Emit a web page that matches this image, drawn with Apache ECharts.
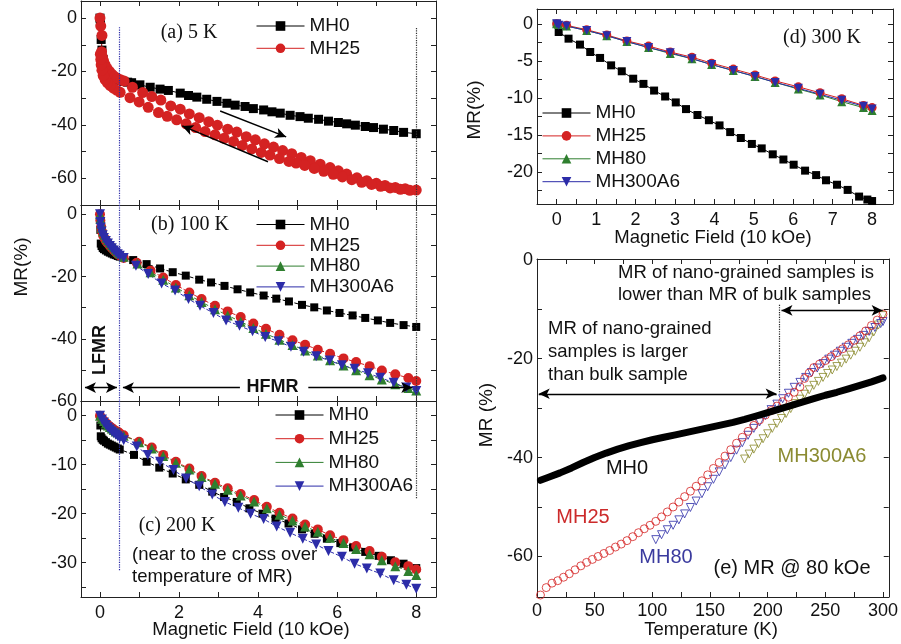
<!DOCTYPE html>
<html><head><meta charset="utf-8">
<script src="https://cdn.jsdelivr.net/npm/echarts@6/dist/echarts.min.js"></script>
<style>html,body{margin:0;padding:0;background:#fff}#c{width:901px;height:644px}</style>
</head><body><div id="c"></div>
<script>
// ---------- tick / label values ----------
const xMF_ticks = [0,1,2,3,4,5,6,7,8];
const xMF_labels = [0,2,4,6,8];
const ya_ticks = [-70,-60,-50,-40,-30,-20,-10,0];
const ya_labels = [-60,-40,-20,0];
const yb_ticks = [-60,-50,-40,-30,-20,-10,0];
const yb_labels = [-60,-40,-20,0];
const yc_ticks = [-35,-30,-25,-20,-15,-10,-5,0];
const yc_labels = [-30,-20,-10,0];
const xd_ticks = [0,0.5,1,1.5,2,2.5,3,3.5,4,4.5,5,5.5,6,6.5,7,7.5,8];
const xd_labels = [0,1,2,3,4,5,6,7,8];
const yd_ticks = [-22.5,-20,-17.5,-15,-12.5,-10,-7.5,-5,-2.5,0];
const yd_labels = [-20,-15,-10,-5,0];
const xe_ticks = [0,25,50,75,100,125,150,175,200,225,250,275,300];
const xe_labels = [0,50,100,150,200,250,300];
const ye_ticks = [-60,-50,-40,-30,-20,-10,0];
const ye_labels = [-60,-40,-20,0];

// ---------- (a) 5 K ----------
const a_MH0 = [[0,0],[0.01,-1.2],[0.03,-8],[0.05,-12],[0.08,-15.5],[0.12,-18],[0.16,-19.5],[0.2,-20.5],[0.25,-21.2],[0.3,-21.8],[0.35,-22.3],[0.4,-22.7],[0.45,-23.0],[0.5,-23.3],[0.6,-23.7],[0.7,-24.0],[0.80,-24.2],[1.01,-25.0],[1.27,-25.9],[1.52,-26.6],[1.73,-27.1],[2.03,-28.1],[2.24,-29.0],[2.45,-29.6],[2.70,-30.4],[2.96,-31.2],[3.21,-31.9],[3.42,-32.6],[3.67,-33.1],[3.88,-33.9],[4.14,-34.4],[4.35,-35.1],[4.56,-35.6],[4.81,-36.4],[5.06,-36.9],[5.27,-37.5],[5.53,-37.9],[5.78,-38.6],[6.03,-39.1],[6.24,-39.6],[6.46,-40.1],[6.71,-40.6],[6.92,-41.0],[7.17,-41.6],[7.43,-42.1],[7.68,-42.8],[8.00,-43.3]];
const a_MH25 = [[0,0],[0.02,-3],[0.05,-6.5],[0.04,-12.6],[0.06,-14.5],[0.09,-16],[0.13,-17.5],[0.18,-18.8],[0.24,-20],[0.3,-21],[0.37,-21.9],[0.44,-22.6],[0.52,-23.1],[0.61,-23.6],[0.82,-25.9],[1.08,-27.9],[1.31,-29.4],[1.54,-30.7],[1.79,-32.9],[2.03,-34.1],[2.26,-35.9],[2.51,-37.3],[2.75,-38.8],[2.97,-40.1],[3.23,-41.6],[3.46,-42.7],[3.70,-44.4],[3.93,-45.6],[4.16,-47.1],[4.39,-48.3],[4.62,-49.6],[4.85,-50.8],[5.09,-52.2],[5.32,-53.4],[5.57,-54.7],[5.82,-56.0],[6.03,-57.2],[6.24,-58.4],[6.50,-59.8],[6.75,-60.9],[6.99,-61.9],[7.21,-62.7],[7.47,-63.4],[7.72,-63.9],[8.00,-64.4],[7.84,-64.5],[7.60,-64.1],[7.34,-63.6],[7.10,-63.0],[6.87,-62.3],[6.62,-61.5],[6.37,-60.5],[6.13,-59.5],[5.90,-58.5],[5.66,-57.4],[5.42,-56.3],[5.18,-55.2],[4.96,-54.3],[4.78,-53.7],[4.54,-52.6],[4.30,-51.3],[4.08,-50.3],[3.84,-49.0],[3.60,-47.7],[3.38,-46.2],[3.14,-45.0],[2.91,-43.7],[2.66,-42.5],[2.42,-41.0],[2.18,-39.6],[1.94,-38.1],[1.70,-36.8],[1.48,-35.4],[1.22,-33.4],[0.99,-31.4],[0.76,-29.8],[0.51,-27.8],[0.42,-27.0],[0.34,-26.2],[0.26,-25.3],[0.19,-24.3],[0.13,-23.0],[0.08,-21.5],[0.05,-19.5],[0.03,-17.5],[0.02,-15.5],[0.01,-13.5]];

// ---------- (b) 100 K ----------
const b_MH0 = [[0,0],[0.01,-5],[0.02,-9.4],[0.04,-10.2],[0.07,-10.8],[0.1,-11.2],[0.15,-11.6],[0.2,-12.0],[0.25,-12.3],[0.3,-12.6],[0.35,-12.9],[0.4,-13.1],[0.45,-13.4],[0.5,-13.6],[0.84,-14.7],[1.18,-16.0],[1.52,-17.4],[1.84,-18.6],[2.17,-19.7],[2.51,-21.0],[2.81,-21.9],[3.15,-23.0],[3.48,-24.1],[3.80,-25.1],[4.14,-26.1],[4.46,-27.1],[4.78,-28.0],[5.11,-29.1],[5.42,-29.9],[5.74,-30.9],[6.06,-31.7],[6.39,-32.5],[6.71,-33.3],[7.03,-34.1],[7.34,-34.9],[7.68,-35.6],[8.00,-36.2]];
const b_MH25 = [[0,0],[0.01,-2],[0.03,-4],[0.05,-5.5],[0.08,-6.8],[0.12,-7.8],[0.16,-8.7],[0.2,-9.4],[0.25,-10.1],[0.3,-10.8],[0.35,-11.5],[0.4,-12.1],[0.45,-12.7],[0.5,-13.2],[0.6,-14.0],[0.93,-15.6],[1.28,-18.1],[1.60,-20.3],[1.92,-22.7],[2.26,-25.1],[2.57,-27.2],[2.91,-29.4],[3.23,-31.2],[3.56,-33.0],[3.88,-35.1],[4.20,-36.8],[4.54,-38.7],[4.87,-40.5],[5.19,-41.9],[5.51,-43.5],[5.82,-44.8],[6.16,-46.3],[6.48,-47.5],[6.82,-48.8],[7.13,-50.2],[7.47,-51.4],[7.80,-52.6],[8.00,-53.6]];
const b_MH80 = [[0,0],[0.01,-1.5],[0.03,-3],[0.05,-4.3],[0.08,-5.5],[0.12,-6.6],[0.16,-7.5],[0.2,-8.3],[0.25,-9.1],[0.3,-9.9],[0.35,-10.6],[0.4,-11.3],[0.45,-12.0],[0.5,-12.6],[0.6,-13.6],[0.95,-15.8],[1.28,-18.6],[1.60,-21.0],[1.92,-23.5],[2.26,-26.0],[2.57,-28.2],[2.91,-30.5],[3.23,-32.5],[3.56,-34.5],[3.88,-36.5],[4.20,-38.4],[4.54,-40.3],[4.87,-42.0],[5.19,-43.8],[5.51,-45.4],[5.82,-46.9],[6.16,-48.6],[6.48,-50.1],[6.82,-51.7],[7.13,-53.1],[7.47,-54.6],[7.80,-55.8],[8.00,-56.6]];
const b_MH300A6 = [[0,0],[0.01,-2.5],[0.02,-4.2],[0.04,-5.5],[0.07,-6.7],[0.1,-7.6],[0.15,-8.6],[0.2,-9.4],[0.25,-10.2],[0.3,-10.9],[0.35,-11.6],[0.4,-12.2],[0.45,-12.8],[0.5,-13.3],[0.6,-14.0],[0.91,-16.5],[1.22,-19.2],[1.56,-22.2],[1.90,-24.5],[2.24,-27.2],[2.53,-29.4],[2.87,-31.7],[3.19,-34.1],[3.53,-35.8],[3.86,-37.6],[4.18,-39.4],[4.51,-40.8],[4.83,-42.6],[5.15,-44.2],[5.47,-45.6],[5.81,-47.0],[6.12,-48.5],[6.44,-49.6],[6.78,-51.1],[7.09,-52.5],[7.43,-54.1],[7.75,-55.7],[8.00,-56.8]];

// ---------- (c) 200 K ----------
const c_MH0 = [[0,0],[0.01,-2],[0.02,-4.2],[0.04,-4.6],[0.07,-4.9],[0.1,-5.1],[0.15,-5.4],[0.2,-5.7],[0.25,-5.9],[0.3,-6.1],[0.35,-6.3],[0.4,-6.5],[0.45,-6.7],[0.5,-6.9],[0.86,-8.0],[1.18,-9.4],[1.50,-10.6],[1.84,-11.8],[2.17,-13.0],[2.51,-14.1],[2.84,-15.5],[3.14,-16.6],[3.46,-17.6],[3.78,-18.9],[4.11,-20.0],[4.44,-21.0],[4.77,-22.0],[5.11,-23.2],[5.43,-24.1],[5.74,-25.1],[6.08,-26.0],[6.40,-26.9],[6.71,-27.8],[7.05,-28.6],[7.36,-29.5],[7.68,-30.2],[8.00,-31.1]];
const c_MH25 = [[0,0],[0.05,-0.6],[0.1,-1.1],[0.15,-1.5],[0.2,-1.9],[0.25,-2.2],[0.3,-2.5],[0.35,-2.8],[0.4,-3.1],[0.45,-3.3],[0.5,-3.6],[0.6,-4.0],[0.99,-5.3],[1.31,-6.5],[1.60,-8.0],[1.92,-9.4],[2.26,-10.8],[2.57,-12.3],[2.91,-13.7],[3.23,-14.8],[3.56,-16.0],[3.90,-17.2],[4.22,-18.6],[4.54,-19.8],[4.87,-21.0],[5.19,-22.2],[5.51,-23.2],[5.82,-24.4],[6.16,-25.4],[6.48,-26.6],[6.82,-27.6],[7.13,-28.8],[7.47,-29.9],[7.80,-30.7],[8.00,-31.4]];
const c_MH80 = [[0,0],[0.05,-0.6],[0.1,-1.1],[0.15,-1.6],[0.2,-2.0],[0.25,-2.3],[0.3,-2.6],[0.35,-2.9],[0.4,-3.2],[0.45,-3.4],[0.5,-3.7],[0.6,-4.1],[0.99,-5.4],[1.31,-6.7],[1.60,-8.2],[1.92,-9.6],[2.26,-11.0],[2.57,-12.5],[2.91,-13.9],[3.23,-15.1],[3.56,-16.3],[3.90,-17.5],[4.22,-18.9],[4.54,-20.2],[4.87,-21.4],[5.19,-22.6],[5.51,-23.7],[5.82,-24.9],[6.16,-26.0],[6.48,-27.2],[6.82,-28.3],[7.13,-29.5],[7.47,-30.7],[7.80,-31.7],[8.00,-32.5]];
const c_MH300A6 = [[0,0],[0.05,-0.8],[0.1,-1.4],[0.15,-1.9],[0.2,-2.4],[0.25,-2.8],[0.3,-3.2],[0.35,-3.6],[0.4,-3.9],[0.45,-4.2],[0.5,-4.5],[0.6,-5.0],[0.93,-6.3],[1.21,-8.0],[1.52,-9.4],[1.86,-11.1],[2.18,-12.8],[2.51,-14.4],[2.84,-16.1],[3.16,-17.6],[3.50,-18.8],[3.81,-20.0],[4.14,-21.1],[4.47,-22.6],[4.81,-23.9],[5.13,-25.1],[5.47,-26.3],[5.78,-27.6],[6.12,-28.8],[6.44,-30.2],[6.75,-31.2],[7.09,-32.2],[7.43,-33.6],[7.75,-34.5],[8.00,-35.3]];

// ---------- (d) 300 K ----------
const d_MH0 = [[0,0],[0.05,-1.1],[0.30,-2.0],[0.59,-2.8],[0.85,-3.8],[1.10,-4.6],[1.38,-5.6],[1.65,-6.4],[1.94,-7.4],[2.20,-8.1],[2.47,-9.0],[2.75,-9.8],[3.02,-10.6],[3.28,-11.5],[3.57,-12.3],[3.86,-13.0],[4.13,-13.7],[4.40,-14.6],[4.67,-15.4],[4.95,-16.2],[5.20,-16.8],[5.48,-17.6],[5.75,-18.3],[6.01,-19.0],[6.30,-19.8],[6.58,-20.4],[6.83,-21.1],[7.11,-21.7],[7.38,-22.4],[7.67,-23.3],[7.88,-23.7],[8.00,-23.9]];
const d_MH25 = [[0,0],[0.05,-0.1],[0.25,-0.2],[0.76,-0.8],[1.27,-1.5],[1.78,-2.3],[2.33,-3.0],[2.88,-3.8],[3.43,-4.5],[3.93,-5.3],[4.48,-6.1],[5.03,-6.9],[5.54,-7.7],[6.13,-8.5],[6.68,-9.3],[7.23,-10.1],[7.78,-11.0],[8.00,-11.3]];
const d_MH80 = [[0,0],[0.05,-0.1],[0.25,-0.3],[0.76,-0.9],[1.27,-1.6],[1.78,-2.4],[2.33,-3.2],[2.88,-4.0],[3.43,-4.7],[3.93,-5.5],[4.48,-6.3],[5.03,-7.1],[5.54,-7.9],[6.13,-8.8],[6.68,-9.6],[7.23,-10.5],[7.78,-11.3],[8.00,-11.7]];
const d_MH300A6 = [[0,0],[0.05,-0.2],[0.25,-0.3],[0.76,-0.9],[1.27,-1.6],[1.78,-2.4],[2.33,-3.2],[2.88,-3.9],[3.43,-4.7],[3.93,-5.5],[4.48,-6.3],[5.03,-7.1],[5.54,-7.9],[6.13,-8.7],[6.68,-9.5],[7.23,-10.3],[7.78,-11.1],[8.00,-11.5]];

// ---------- (e) MR @ 80 kOe vs temperature ----------
const e_MH0 = [[3,-44.6],[10,-44.0],[20,-43.1],[30,-42.1],[40,-41.0],[50,-40.0],[60,-39.1],[70,-38.3],[80,-37.6],[90,-37.0],[100,-36.4],[110,-35.9],[120,-35.4],[130,-34.9],[140,-34.4],[150,-33.9],[160,-33.4],[170,-32.9],[180,-32.3],[190,-31.6],[200,-30.9],[210,-30.2],[220,-29.5],[230,-28.8],[240,-28.1],[250,-27.4],[260,-26.8],[270,-26.1],[280,-25.4],[290,-24.7],[300,-23.9]];
const e_MH25 = [[3,-67.8],[8,-66.3],[13,-65.4],[18,-64.9],[23,-64.2],[28,-63.5],[33,-62.7],[38,-61.9],[43,-61.2],[48,-60.6],[53,-60.0],[58,-59.4],[63,-58.8],[68,-58.1],[73,-57.5],[78,-56.8],[83,-56.0],[88,-55.2],[93,-54.4],[98,-53.7],[103,-52.9],[108,-52.0],[113,-51.0],[118,-50.0],[123,-49.0],[128,-47.9],[133,-46.8],[138,-45.8],[143,-44.7],[148,-43.5],[153,-42.2],[158,-41.0],[163,-39.7],[168,-38.4],[173,-37.1],[178,-35.9],[183,-34.7],[188,-33.5],[193,-32.4],[198,-31.4],[203,-30.5],[208,-29.6],[213,-28.7],[218,-27.8],[223,-26.8],[228,-25.7],[232,-24.0],[236,-22.9],[240,-21.8],[245,-21.1],[250,-20.4],[255,-19.6],[260,-18.8],[265,-18.0],[270,-17.2],[275,-16.3],[280,-15.4],[285,-14.4],[290,-13.3],[295,-12.2],[300,-11.0]];
const e_MH80 = [[103,-56.6],[108,-55.6],[113,-54.6],[118,-53.7],[123,-52.6],[128,-51.4],[133,-50.1],[138,-48.8],[143,-47.3],[148,-45.9],[153,-44.4],[158,-42.9],[163,-41.5],[168,-40.0],[173,-38.5],[178,-37.0],[183,-35.5],[188,-34.1],[193,-32.8],[198,-31.5],[203,-30.3],[208,-29.2],[213,-28.1],[218,-27.0],[223,-25.8],[228,-24.8],[233,-23.8],[238,-22.8],[243,-21.9],[248,-21.0],[253,-20.1],[258,-19.3],[263,-18.5],[268,-17.7],[273,-16.9],[278,-16.1],[283,-15.3],[288,-14.5],[293,-13.7],[298,-12.9],[300,-12.5]];
const e_MH300A6 = [[180,-40.3],[184,-39.3],[188,-38.3],[192,-37.2],[196,-36.2],[200,-35.2],[204,-34.1],[208,-33.1],[212,-32.1],[216,-31.1],[220,-30.1],[224,-29.1],[228,-28.2],[232,-27.2],[236,-26.3],[240,-25.4],[244,-24.6],[248,-23.8],[252,-23.0],[256,-22.3],[260,-21.6],[264,-20.9],[268,-20.1],[272,-19.3],[276,-18.5],[280,-17.7],[284,-16.8],[288,-15.8],[292,-14.6],[296,-13.2],[300,-11.3]];

// ---------- styling ----------
const SANS = '"Liberation Sans", Arial, sans-serif';
const SERIF = '"Liberation Serif", "Times New Roman", serif';
const K = '#000', R = '#d42222', G = '#2f7f2f', B = '#2c2ca8', O = '#8a8a2c';
const AX = '#222';

const grids = [
  {left:81, top:1, width:355, height:204},
  {left:81, top:205, width:355, height:196},
  {left:81, top:401, width:355, height:196},
  {left:537, top:9, width:356, height:195},
  {left:537, top:259, width:354, height:338}
];
const xr = [[-0.48,8.5],[-0.48,8.5],[-0.48,8.5],[-0.5,8.53],[0,305]];
const yr = [[-70,6.4],[-60,3],[-37,3],[-24.3,2],[-68.2,0.15]];
const xt = [xMF_ticks,xMF_ticks,xMF_ticks,xd_ticks,xe_ticks];
const xl = [null,null,xMF_labels,xd_labels,xe_labels];
const yt = [ya_ticks,yb_ticks,yc_ticks,yd_ticks,ye_ticks];
const yl = [ya_labels,yb_labels,yc_labels,yd_labels,ye_labels];

function axis(g, min, max, ticks, labels, pos, margin) {
  return {type:'value', gridIndex:g, min:min, max:max, position:pos,
    splitLine:{show:false},
    axisLine:{show:true, onZero:false, lineStyle:{color:AX, width:1}},
    axisTick:{show:true, inside:true, length:5, customValues:ticks, lineStyle:{color:AX, width:1}},
    axisLabel:{show:!!labels, customValues:labels||[], margin:margin, fontSize:18, color:'#111', fontFamily:SANS}
  };
}
const xAxis = [], yAxis = [];
for (let g = 0; g < 5; g++) {
  xAxis.push(axis(g, xr[g][0], xr[g][1], xt[g], xl[g], 'bottom', g===4?5:7));
  xAxis.push(axis(g, xr[g][0], xr[g][1], xt[g], null, 'top', 6));
  yAxis.push(axis(g, yr[g][0], yr[g][1], yt[g], yl[g], 'left', g>=3?4:4));
  yAxis.push(axis(g, yr[g][0], yr[g][1], yt[g], null, 'right', 6));
}

function S(name, data, g, color, symbol, size, dashed, extra) {
  return Object.assign({
    type:'line', name:name, data:data, xAxisIndex:2*g, yAxisIndex:2*g,
    symbol:symbol, symbolSize:size, showSymbol:true,
    lineStyle:{color:color, width:1, type:dashed?'dashed':'solid'},
    itemStyle:{color:color},
    emphasis:{disabled:true}, animation:false
  }, extra||{});
}
const INV = {symbolRotate:180};

function seg(p1, p2, color, type, s1, s2) {
  return [
    {coord:p1, symbol:s1||'none', symbolSize:[8,11], lineStyle:{color:color, type:type, width:type==='solid'?1.4:1.2}},
    {coord:p2, symbol:s2||'none', symbolSize:[8,11], lineStyle:{color:color, type:type, width:type==='solid'?1.4:1.2}}
  ];
}
function ML(list) {
  return {markLine:{silent:true, animation:false, label:{show:false}, emphasis:{disabled:true}, data:list}};
}

const series = [
  // (a)
  S('MH0', a_MH0, 0, K, 'rect', 9, false, ML([
    seg([0.5,-3.4],[0.5,-70], B, 'dotted'),
    seg([8,-3.7],[8,-70], '#333', 'dotted'),
    seg([3.04,-34.8],[4.71,-44.5], K, 'solid', 'none', 'arrow'),
    seg([4.25,-53.8],[2.08,-40.4], K, 'solid', 'none', 'arrow')
  ])),
  S('MH25', a_MH25, 0, R, 'circle', 11, false),
  // (b)
  S('MH0', b_MH0, 1, K, 'rect', 8, true, ML([
    seg([0.5,3],[0.5,-60], B, 'dotted'),
    seg([8,3],[8,-60], '#333', 'dotted'),
    seg([-0.38,-55.7],[0.43,-55.7], K, 'solid', 'arrow', 'arrow'),
    seg([3.54,-55.7],[0.58,-55.7], K, 'solid', 'none', 'arrow'),
    seg([5.27,-55.7],[7.9,-55.7], K, 'solid', 'none', 'arrow')
  ])),
  S('MH25', b_MH25, 1, R, 'circle', 10, true),
  S('MH80', b_MH80, 1, G, 'triangle', 10, true),
  S('MH300A6', b_MH300A6, 1, B, 'triangle', 10, true, INV),
  // (c)
  S('MH0', c_MH0, 2, K, 'rect', 8, true, ML([
    seg([0.5,3],[0.5,-31.6], B, 'dotted'),
    seg([8,3],[8,-17], '#333', 'dotted')
  ])),
  S('MH25', c_MH25, 2, R, 'circle', 10, true),
  S('MH80', c_MH80, 2, G, 'triangle', 10, true),
  S('MH300A6', c_MH300A6, 2, B, 'triangle', 10, true, INV),
  // (d)
  S('MH0', d_MH0, 3, K, 'rect', 8, false),
  S('MH25', d_MH25, 3, R, 'circle', 9, false),
  S('MH80', d_MH80, 3, G, 'triangle', 9, false),
  S('MH300A6', d_MH300A6, 3, B, 'triangle', 9, false, INV),
  // (e)
  S('MH0 e', e_MH0, 4, K, 'none', 1, false, {lineStyle:{color:K, width:7, cap:'round', join:'round'}, ...ML([
    seg([210,-9.1],[210,-27.1], '#222', 'dotted'),
    seg([1.5,-27.1],[207.8,-27.1], K, 'solid', 'arrow', 'arrow'),
    seg([212,-10.25],[299.7,-10.25], K, 'solid', 'arrow', 'arrow')
  ])}),
  {type:'scatter', name:'MH300A6 e', data:e_MH300A6, xAxisIndex:8, yAxisIndex:8, symbol:'triangle', symbolRotate:180, symbolSize:8,
   itemStyle:{color:'rgba(255,255,255,0)', borderColor:O, borderWidth:1}, emphasis:{disabled:true}, animation:false},
  {type:'scatter', name:'MH80 e', data:e_MH80, xAxisIndex:8, yAxisIndex:8, symbol:'triangle', symbolRotate:180, symbolSize:8,
   itemStyle:{color:'rgba(255,255,255,0)', borderColor:B, borderWidth:1}, emphasis:{disabled:true}, animation:false},
  {type:'scatter', name:'MH25 e', data:e_MH25, xAxisIndex:8, yAxisIndex:8, symbol:'circle', symbolSize:8,
   itemStyle:{color:'rgba(255,255,255,0)', borderColor:R, borderWidth:1}, emphasis:{disabled:true}, animation:false}
];

function LG(names, left, top, gap) {
  return {data:names, left:left, top:top, orient:'vertical', itemWidth:48, itemHeight:12, itemGap:gap, padding:0,
    selectedMode:false, lineStyle:{type:'solid', width:1},
    textStyle:{fontSize:19, fontFamily:SANS, color:'#111', lineHeight:19}};
}
const legend = [
  LG(['MH0','MH25'], 256, 16.5, 3.3),
  LG(['MH0','MH25','MH80','MH300A6'], 256, 215, 1.8),
  LG(['MH0','MH25','MH80','MH300A6'], 275, 405.5, 4.7),
  LG(['MH0','MH25','MH80','MH300A6'], 542, 103.5, 3.9)
];

function T(text, x, y, font, fill, align, rot) {
  return {type:'text', x:x, y:y, rotation:rot||0, silent:true,
    style:{text:text, font:font, fill:fill||'#111', textAlign:align||'center', textVerticalAlign:'middle',
      align:align||'center', verticalAlign:'middle'}};
}
const F18 = '18.5px ' + SANS;
const graphic = {elements:[
  T('(a) 5 K', 189, 33, '20px ' + SERIF),
  T('(b) 100 K', 190, 225, '20px ' + SERIF),
  T('(c) 200 K', 177, 526, '20px ' + SERIF),
  T('(d) 300 K', 822, 38, '20px ' + SERIF),
  T('(near to the cross over', 132, 555, F18, '#111', 'left'),
  T('temperature of MR)', 132, 577, F18, '#111', 'left'),
  T('LFMR', 100.5, 350, 'bold 18px ' + SANS, '#111', 'center', Math.PI/2),
  T('HFMR', 272.5, 387, 'bold 18px ' + SANS),
  T('MR(%)', 21.5, 267, '19px ' + SANS, '#111', 'center', Math.PI/2),
  T('Magnetic Field (10 kOe)', 251, 630, F18),
  T('Magnetic Field (10 kOe)', 713, 238, F18),
  T('MR(%)', 475, 110, '19px ' + SANS, '#111', 'center', Math.PI/2),
  T('Temperature (K)', 711, 630, F18),
  T('MR (%)', 487, 415, '19px ' + SANS, '#111', 'center', Math.PI/2),
  T('MR of nano-grained samples is', 618, 273, F18, '#111', 'left'),
  T('lower than MR of bulk samples', 618, 295, F18, '#111', 'left'),
  T('MR of nano-grained', 548, 329, F18, '#111', 'left'),
  T('samples is larger', 548, 352, F18, '#111', 'left'),
  T('than bulk sample', 548, 375, F18, '#111', 'left'),
  T('MH0', 627, 468, '20px ' + SANS, '#111'),
  T('MH25', 583, 517, '20px ' + SANS, '#cc2a2a'),
  T('MH80', 666, 557, '20px ' + SANS, '#3a3a9e'),
  T('MH300A6', 822, 456, '20px ' + SANS, '#8b8b32'),
  T('(e) MR @ 80 kOe', 792, 568, '20px ' + SANS, '#111')
]};

const chart = echarts.init(document.getElementById('c'), null, {renderer:'canvas'});
chart.setOption({animation:false, grid:grids, xAxis:xAxis, yAxis:yAxis, legend:legend, series:series, graphic:graphic});
</script></body></html>
